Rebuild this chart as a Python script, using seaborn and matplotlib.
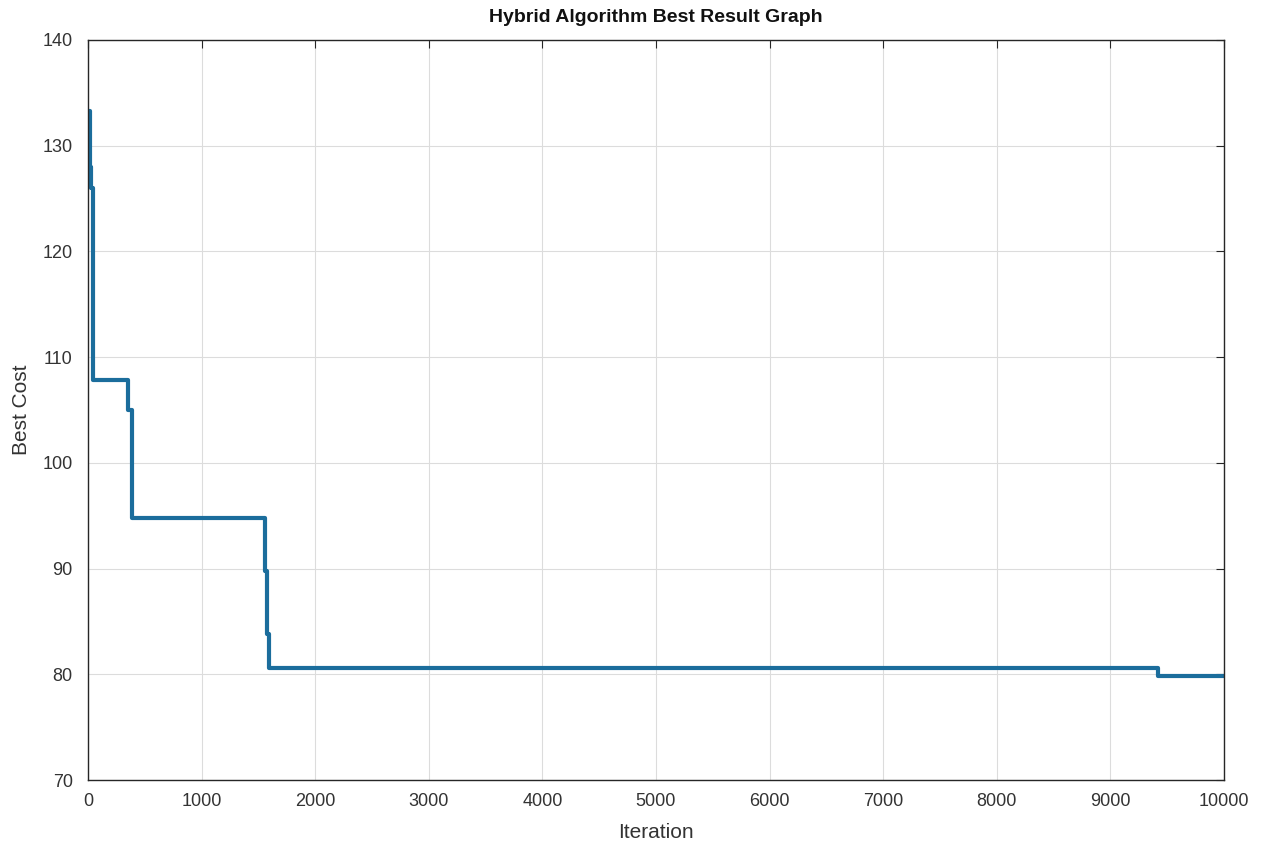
import matplotlib
matplotlib.use("Agg")
import matplotlib.pyplot as plt
import seaborn as sns

# step change points
iterations = [1, 15, 30, 45, 355, 390, 1560, 1578, 1595, 9420, 10000]
best_cost = [133.3, 128.0, 126.0, 107.8, 105.0, 94.8, 89.8, 83.8, 80.6, 79.8, 79.8]

x_ticks = list(range(0, 10001, 1000))
y_ticks = list(range(70, 141, 10))

sns.set_style("white")
plt.rcParams["font.family"] = ["Liberation Sans", "DejaVu Sans"]

fig = plt.figure(figsize=(12.68, 8.47), dpi=100)
ax = fig.add_axes([0.0694, 0.0791, 0.8959, 0.8737])

sns.lineplot(x=iterations, y=best_cost, drawstyle="steps-post",
             color="#1b6d9c", linewidth=3, ax=ax)

ax.set_xlim(0, 10000)
ax.set_ylim(70, 140)
ax.set_xticks(x_ticks)
ax.set_yticks(y_ticks)
ax.grid(True, color="#dcdcdc", linewidth=0.8)
ax.tick_params(direction="in", top=True, right=True, length=6,
               labelsize=13, colors="#262626", labelcolor="#333333")
ax.tick_params(axis="x", pad=9)
ax.tick_params(axis="y", pad=11)
for s in ax.spines.values():
    s.set_color("#262626")
    s.set_linewidth(1.0)

ax.set_xlabel("Iteration", fontsize=15, color="#333333", labelpad=10)
ax.set_ylabel("Best Cost", fontsize=15, color="#333333", labelpad=8)
ax.set_title("Hybrid Algorithm Best Result Graph", fontsize=14,
             fontweight="bold", color="#111111", pad=13)

plt.savefig("out.png", dpi=100)
